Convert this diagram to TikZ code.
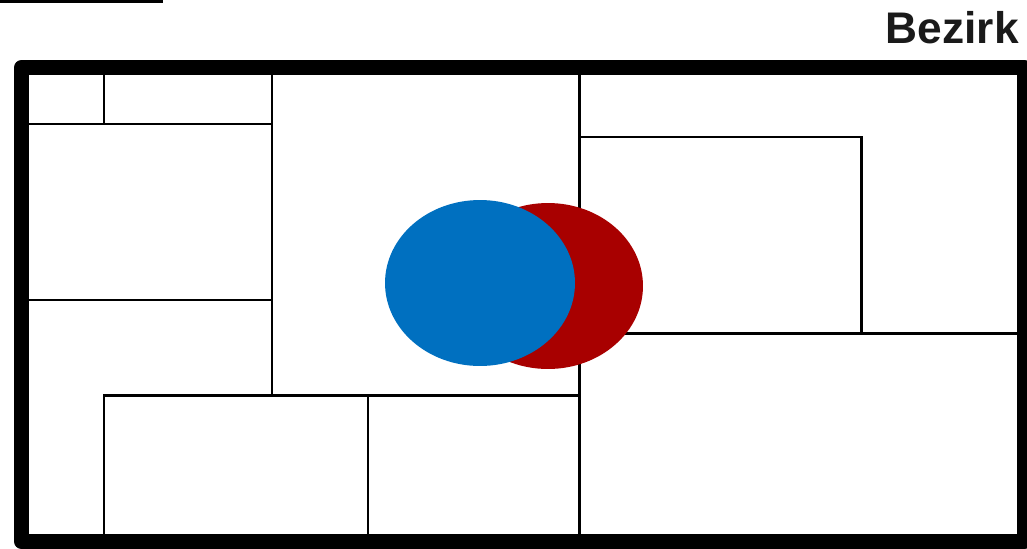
\documentclass[tikz,border=0pt]{standalone}
\usepackage{fontspec}
\setmainfont{Liberation Sans}
\usepackage{xcolor}
\usetikzlibrary{calc}
\definecolor{zoneblue}{HTML}{0070C0}
\definecolor{zonered}{HTML}{A80000}
\definecolor{labelgray}{HTML}{1A1A1A}

\begin{document}
\begin{tikzpicture}[
  x=0.02cm, y=-0.02cm,
  wall/.style={draw=black,line width=1.7pt},
  frame/.style={draw=black,line width=8.5pt,line join=round},
  zone/.style={draw=none},
  title/.style={font=\bfseries\fontsize{25.2}{30}\selectfont,text=labelgray,inner sep=0pt,anchor=base east}
]
\useasboundingbox (0,0) rectangle (1027,548);
% box cut at top left
\draw[wall] (0,1.5) -- (162,1.5) -- (162,-6);
\node[title] (bezirk) at (1019,43) {Bezirk};
% plot lines
\draw[wall] (104,75) -- (104,124);
\draw[wall] (29,124) -- (272,124);
\draw[wall] (272,75) -- (272,395);
\draw[wall] (29,300) -- (272,300);
\draw[wall] (104,535) -- (104,395) -- (579,395);
\draw[wall] (368,395) -- (368,535);
\draw[wall] (579,75) -- (579,535);
\draw[wall] (579,137) -- (861,137) -- (861,333);
\draw[wall] (579,333) -- (1017,333);
% zones
\fill[zonered] (548,286) ellipse [x radius=1.9cm, y radius=1.66cm];
\fill[zoneblue] (480,283) ellipse [x radius=1.9cm, y radius=1.66cm];
% outer border
\draw[frame] (21.5,67.5) rectangle (1024.5,541.5);
\end{tikzpicture}
\end{document}
